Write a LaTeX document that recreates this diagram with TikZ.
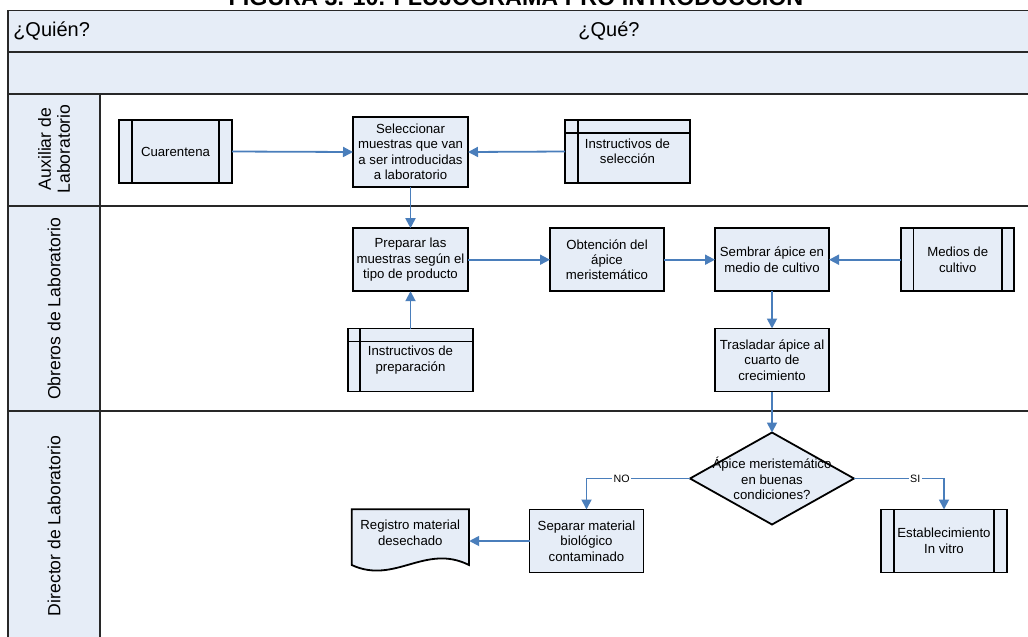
\documentclass[tikz,border=0pt]{standalone}
\usepackage{fontspec}
\setmainfont{Liberation Sans}
\usetikzlibrary{arrows.meta,shapes.geometric}
\definecolor{lanefill}{RGB}{230,237,247}
\definecolor{flowblue}{RGB}{74,126,187}
\definecolor{framegray}{RGB}{40,40,40}

\begin{document}
\begin{tikzpicture}[x=0.75pt,y=-0.75pt,
  boxtext/.style={font=\fontsize{9.9}{11.6}\selectfont, align=center},
  proc/.style={boxtext, draw=black, line width=1.35pt, fill=lanefill,
    inner sep=0pt, outer sep=0pt, minimum width=85.5pt, minimum height=47.25pt},
  link/.style={draw=flowblue, line width=1.35pt, -{Triangle[length=7.5pt,width=7.5pt]}},
  edgelabel/.style={fill=white, inner sep=1pt, font=\fontsize{8}{9}\selectfont},
  lanelabel/.style={rotate=90, align=center, font=\fontsize{13.2}{14.2}\selectfont},
  gridline/.style={draw=framegray, line width=1.2pt},
  innerline/.style={draw=black, line width=1.35pt}
]
\useasboundingbox (0,0) rectangle (1028,636);
\clip (0,0) rectangle (1028,636);

% title (its upper part lies above the page)
\node[anchor=base, inner sep=0pt, font=\fontsize{17.5}{20}\selectfont\bfseries] (title) at (516,5.5)
  {FIGURA 3. 10. FLUJOGRAMA PRO INTRODUCCION};

% swimlane frame
\fill[lanefill] (8,10.5) rectangle (1034,94);
\fill[lanefill] (8,94) rectangle (100,642);
\draw[gridline] (1034,10.5) -- (8,10.5) -- (8,642);
\draw[gridline] (8,52) -- (1034,52);
\draw[gridline] (8,94) -- (1034,94);
\draw[gridline] (8,206) -- (1034,206);
\draw[gridline] (8,411) -- (1034,411);
\draw[gridline] (100,94) -- (100,642);

\node[anchor=west, inner sep=0pt, font=\fontsize{15}{17}\selectfont] (who) at (13,31) {¿Quién?};
\node[inner sep=0pt, font=\fontsize{15}{17}\selectfont] (what) at (609,31) {¿Qué?};

\node[lanelabel] (lane1) at (54,149) {Auxiliar de\\Laboratorio};
\node[lanelabel] (lane2) at (54,309) {Obreros de Laboratorio};
\node[lanelabel] (lane3) at (54,526) {Director de Laboratorio};

% lane 1
\node[proc, minimum width=84.75pt] (cuar) at (175.5,151.5) {Cuarentena};
\draw[innerline] ([xshift=9.75pt]cuar.north west) -- ([xshift=9.75pt]cuar.south west);
\draw[innerline] ([xshift=-9.75pt]cuar.north east) -- ([xshift=-9.75pt]cuar.south east);

\node[proc, minimum width=86.25pt, minimum height=52.5pt] (sel) at (410.5,152)
  {Seleccionar\\muestras que van\\a ser introducidas\\a laboratorio};

\node[proc, minimum width=93.75pt] (insel) at (627.5,151.5) {Instructivos de\\selección};
\draw[innerline] ([xshift=9.75pt]insel.north west) -- ([xshift=9.75pt]insel.south west);
\draw[innerline] ([yshift=-9.5pt]insel.north west) -- ([yshift=-9.5pt]insel.north east);

% lane 2
\node[proc, minimum width=86.25pt] (prep) at (410.5,259.7)
  {Preparar las\\muestras según el\\tipo de producto};

\node[proc, minimum width=93.75pt] (inprep) at (410.5,360) {Instructivos de\\preparación};
\draw[innerline] ([xshift=9.2pt]inprep.north west) -- ([xshift=9.2pt]inprep.south west);
\draw[innerline] ([yshift=-9.75pt]inprep.north west) -- ([yshift=-9.75pt]inprep.north east);

\node[proc] (obt) at (607,259.7) {Obtención del\\ápice\\meristemático};
\node[proc] (semb) at (772,259.7) {Sembrar ápice en\\medio de cultivo};

\node[proc, minimum width=84.75pt] (medios) at (957.7,259.7) {Medios de\\cultivo};
\draw[innerline] ([xshift=9.2pt]medios.north west) -- ([xshift=9.2pt]medios.south west);
\draw[innerline] ([xshift=-9pt]medios.north east) -- ([xshift=-9pt]medios.south east);

\node[proc] (tras) at (772,360) {Trasladar ápice al\\cuarto de\\crecimiento};

% lane 3
\node[diamond, draw=black, line width=1.35pt, fill=lanefill, inner sep=0pt, outer sep=0pt,
  minimum width=123pt, minimum height=69pt] (dec) at (772,478.5) {};
\node[boxtext, inner sep=0pt] (dectext) at (772,478.7)
  {Ápice meristemático\\en buenas\\condiciones?};

\node[proc] (sep) at (586.5,541) {Separar material\\biológico\\contaminado};

\node[proc, minimum width=94.5pt] (est) at (944,541) {Establecimiento\\In vitro};
\draw[innerline] ([xshift=9.75pt]est.north west) -- ([xshift=9.75pt]est.south west);
\draw[innerline] ([xshift=-9.75pt]est.north east) -- ([xshift=-9.75pt]est.south east);

% document shape with wavy lower edge
\draw[draw=black, line width=1.35pt, fill=lanefill]
  (351.7,509.3) -- (469,509.3) -- (469,565)
  .. controls (425,543) and (395,585) .. (351.7,565) -- cycle;
\node[boxtext, inner sep=0pt, minimum width=88pt, minimum height=35.5pt] (reg) at (410.3,533)
  {Registro material\\desechado};

% connectors
\draw[link] (cuar.east) -- (sel.west);
\draw[link] (insel.west) -- (sel.east);
\draw[link] (sel.south) -- (prep.north);
\draw[link] (inprep.north) -- (prep.south);
\draw[link] (prep.east) -- (obt.west);
\draw[link] (obt.east) -- (semb.west);
\draw[link] (medios.west) -- (semb.east);
\draw[link] (semb.south) -- (tras.north);
\draw[link] (tras.south) -- (dec.north);
\draw[link] (dec.west) -| node[edgelabel, pos=0.33] {NO} (sep.north);
\draw[link] (dec.east) -| node[edgelabel, pos=0.34] {SI} (est.north);
\draw[link] (sep.west) -- (sep.west -| reg.east);
\end{tikzpicture}
\end{document}
